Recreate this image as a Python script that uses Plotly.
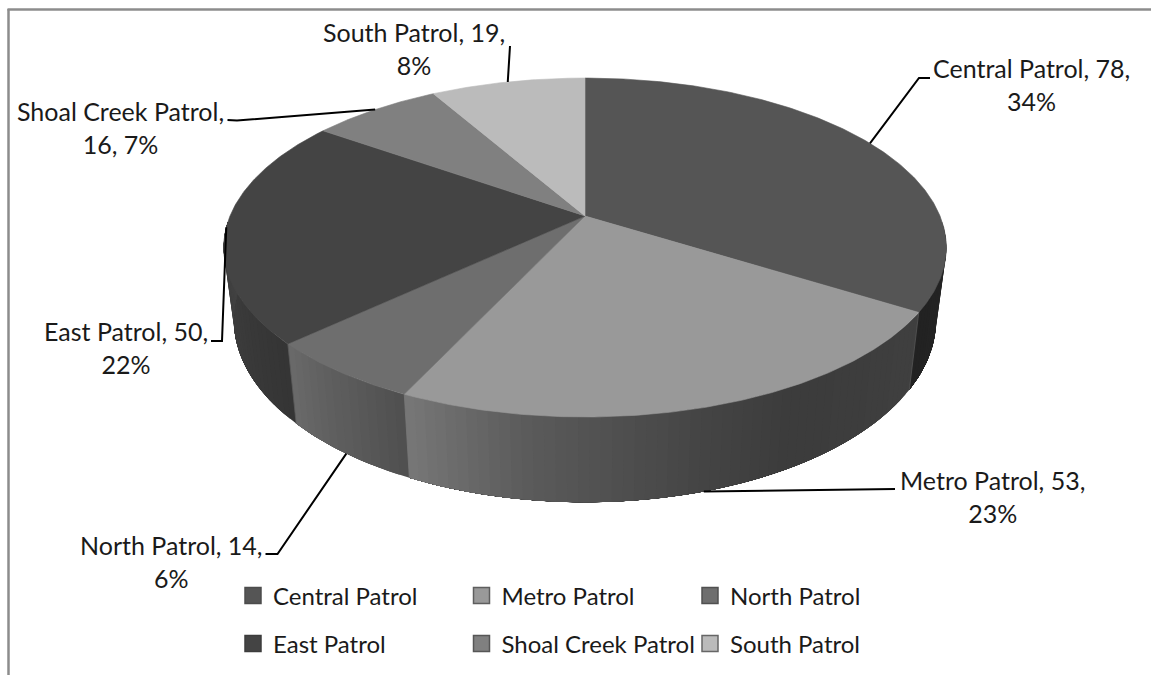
import numpy as np
import plotly.graph_objects as go

# ---- data ----
CATEGORIES = ["Central Patrol", "Metro Patrol", "North Patrol", "East Patrol", "Shoal Creek Patrol", "South Patrol"]
VALUES = [78, 53, 14, 50, 16, 19]
PERCENTS = [34, 23, 6, 22, 7, 8]

# ---- styles ----
TOP_COLORS = ["#555555", "#999999", "#6e6e6e", "#444444", "#808080", "#bbbbbb"]
LEGEND_EDGE = ["#4c4c4c", "#5e5e5e", "#505050", "#3c3c3c", "#565656", "#666666"]
# side-wall shading: (fraction along the slice's visible arc, grey level)
WALL_SHADE = {
    0: [(0.0, 0x27), (1.0, 0x22)],
    1: [(0.0, 0x40), (0.34, 0x3c), (0.52, 0x46), (0.78, 0x5a), (1.0, 0x78)],
    2: [(0.0, 0x50), (1.0, 0x6a)],
    3: [(0.0, 0x35), (1.0, 0x42)],
}
DIVIDER_COLORS = ["#555555", "#787878", "#5c5c5c"]
FONT = "Lato"
FONT_SIZE = 25
LEGEND_FONT_SIZE = 24
LABEL_LINE = ["{n}, {v},<br>{p}%", "{n}, {v},<br>{p}%", "{n}, {v},<br>{p}%",
              "{n}, {v},<br>{p}%", "{n},<br>{v}, {p}%", "{n}, {v},<br>{p}%"]
# label centres and elbow ends (px in the figure's coordinate space)
LABEL_POS = [(1031, 84), (992, 496), (171, 561), (126, 347), (120, 127), (414, 48)]
ELBOWS = [
    [(930, 78), (919, 78)],
    [(895, 489)],
    [(265.5, 554), (277.5, 554)],
    [(211, 341), (222, 341)],
    [(227.5, 120), (237, 120.5)],
    [(510, 46)],
]
# ---- pie geometry (a tilted circle under perspective) ----
CX, CY = 585, 216
TOP_A, TOP_B, PERSP = 355, 163.6, 0.186
BOT_A, BOT_B, BOT_CY = 345, 176, 286
WIDTH, HEIGHT = 1151, 675


def rim(deg, a, b, cy):
    t = np.radians(np.asarray(deg, float))
    u, v = np.sin(t), np.cos(t)
    w = 1 + PERSP * v
    return CX + a * u / w, cy - b * v / w


def top(deg):
    return rim(deg, TOP_A, TOP_B, CY)


def bottom(deg):
    return rim(deg, BOT_A, BOT_B, BOT_CY)


total = sum(VALUES)
cum = np.cumsum([0] + VALUES)
edges = cum / total * 360
mids = (edges[:-1] + edges[1:]) / 2

fig = go.Figure()

# side walls: overlapping bands, so no seams show between them
WALL_LIMITS = [(92, edges[1]), (edges[1], edges[2]), (edges[2], edges[3]), (edges[3], 268)]
for i, (a0, a1) in enumerate(WALL_LIMITS):
    n = max(2, int((a1 - a0) / 1.5))
    grid = np.linspace(a0, a1, n + 1)
    fr, lv = zip(*WALL_SHADE[i])
    for g0 in grid[:-1]:
        mid_frac = (g0 + (a1 - a0) / n / 2 - a0) / (a1 - a0)
        level = int(np.interp(mid_frac, fr, lv))
        col = f"rgb({level},{level},{level})"
        arc = np.linspace(g0, a1, 24)
        tx, ty = top(arc)
        bx, by = bottom(arc[::-1])
        fig.add_trace(go.Scatter(
            x=list(tx) + list(bx), y=list(ty) + list(by), mode="lines", fill="toself",
            fillcolor=col, line=dict(width=0),
            showlegend=False, hoverinfo="skip"))

# faint vertical edges between the slices' walls
for edge, col in zip(edges[1:4], DIVIDER_COLORS):
    tx, ty = top(edge)
    bx, by = bottom(edge)
    fig.add_trace(go.Scatter(
        x=[float(tx), float(bx)], y=[float(ty), float(by)], mode="lines",
        line=dict(color=col, width=0.8), showlegend=False, hoverinfo="skip"))

# top face slices
for i, name in enumerate(CATEGORIES):
    arc = np.linspace(edges[i], edges[i + 1], max(3, int(VALUES[i] * 3)))
    ax, ay = top(arc)
    fig.add_trace(go.Scatter(
        x=[CX] + list(ax) + [CX], y=[CY] + list(ay) + [CY], mode="lines", fill="toself",
        fillcolor=TOP_COLORS[i], line=dict(color=TOP_COLORS[i], width=0.6),
        name=name, showlegend=False, hoveron="fills",
        text=f"{name}: {VALUES[i]} ({PERCENTS[i]}%)", hoverinfo="text"))

# leader lines, anchored at each slice's mid angle
for i in range(len(CATEGORIES)):
    on_front = i in (1, 2)
    ex, ey = bottom(mids[i]) if on_front else top(mids[i])
    pts = ELBOWS[i] + [(float(ex), float(ey))]
    fig.add_trace(go.Scatter(
        x=[p[0] for p in pts], y=[p[1] for p in pts], mode="lines",
        line=dict(color="#000000", width=2), showlegend=False, hoverinfo="skip"))

# data labels
for i, name in enumerate(CATEGORIES):
    fig.add_annotation(
        x=LABEL_POS[i][0], y=LABEL_POS[i][1], xref="x", yref="y",
        text=LABEL_LINE[i].format(n=name, v=VALUES[i], p=PERCENTS[i]),
        showarrow=False, align="center", xanchor="center", yanchor="middle",
        font=dict(family=FONT, size=FONT_SIZE, color="#1a1a1a"))

# legend entries
for i, name in enumerate(CATEGORIES):
    fig.add_trace(go.Scatter(
        x=[None], y=[None], mode="markers", name=name,
        legend="legend" if i < 3 else "legend2",
        marker=dict(symbol="square", size=16, color=TOP_COLORS[i],
                    line=dict(color=LEGEND_EDGE[i], width=1.5))))

legend_common = dict(
    orientation="h", xanchor="left", yanchor="middle", x=233 / WIDTH,
    entrywidth=183.5, entrywidthmode="pixels", bgcolor="rgba(0,0,0,0)", borderwidth=0,
    font=dict(family=FONT, size=LEGEND_FONT_SIZE, color="#1a1a1a"), itemclick=False, itemdoubleclick=False)

fig.update_layout(
    width=WIDTH, height=HEIGHT, margin=dict(l=0, r=0, t=0, b=0),
    paper_bgcolor="white", plot_bgcolor="white", hovermode="closest",
    xaxis=dict(range=[0, WIDTH], visible=False, fixedrange=True),
    yaxis=dict(range=[HEIGHT, 0], visible=False, fixedrange=True),
    legend=dict(y=1 - 596 / HEIGHT, **legend_common),
    legend2=dict(y=1 - 644 / HEIGHT, **legend_common),
    shapes=[
        dict(type="line", xref="x", yref="y", x0=8.5, x1=8.5, y0=9, y1=HEIGHT,
             line=dict(color="#8c8c8c", width=2.5)),
        dict(type="line", xref="x", yref="y", x0=7.5, x1=WIDTH, y0=9.5, y1=9.5,
             line=dict(color="#8c8c8c", width=2.5)),
    ],
)

fig.write_html("out.html", config={"displayModeBar": False},
               post_script="document.body.style.margin='0';document.body.style.overflow='hidden';")
